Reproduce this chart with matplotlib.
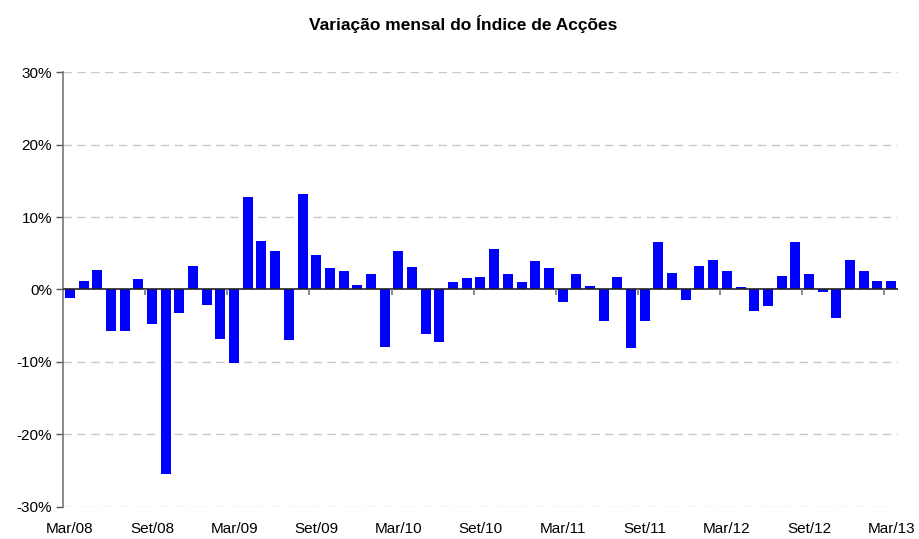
import numpy as np
import matplotlib
matplotlib.use("Agg")
import matplotlib.pyplot as plt

plt.rcParams['font.family'] = ['Liberation Sans', 'DejaVu Sans']

# variação mensal (%), Mar/08 a Mar/13
variacao = [
    -1.2, 1.2, 2.7, -5.7, -5.7, 1.5, -4.7, -25.5, -3.3, 3.3, -2.2, -6.8,
    -10.1, 12.8, 6.7, 5.3, -7.0, 13.2, 4.8, 3.0, 2.6, 0.6, 2.2, -7.9,
    5.3, 3.1, -6.2, -7.2, 1.1, 1.6, 1.7, 5.6, 2.2, 1.0, 3.9, 3.0,
    -1.7, 2.1, 0.55, -4.4, 1.7, -8.1, -4.4, 6.5, 2.3, -1.5, 3.2, 4.1,
    2.6, 0.3, -3.0, -2.3, 1.8, 6.5, 2.2, -0.4, -4.0, 4.1, 2.6, 1.2, 1.2,
]
rotulos = ["Mar/08", "Set/08", "Mar/09", "Set/09", "Mar/10", "Set/10",
           "Mar/11", "Set/11", "Mar/12", "Set/12", "Mar/13"]
yticks = [-30, -20, -10, 0, 10, 20, 30]

n = len(variacao)
x = np.arange(n)

fig = plt.figure(figsize=(9.2, 5.39), dpi=100)
ax = fig.add_axes([0.0685, 0.0594, 0.9075, 0.807])

ax.set_ylim(-30, 30)
ax.set_xlim(-0.5, n - 0.5)

for y in yticks:
    if y != 0:
        ax.axhline(y, color='#c8c8c8', lw=1, ls=(0, (6, 4)), zorder=0)

ax.bar(x, variacao, width=0.73, color='#0000ff', zorder=2)
ax.axhline(0, color='#222222', lw=1.2, zorder=3)

# marcas do eixo das categorias (de 6 em 6 meses)
marcas = np.arange(5.5, n - 0.5, 6)
ax.vlines(marcas, -0.7, 0, color='#777777', lw=1.2, zorder=3)

ax.set_yticks(yticks)
ax.set_yticklabels([f"{v}%" for v in yticks], fontsize=11)
ax.tick_params(axis='y', length=5, width=1, color='#555555', pad=3)

ax.set_xticks(x[::6])
ax.set_xticklabels(rotulos, fontsize=11)
ax.tick_params(axis='x', length=0, pad=11)

for s in ['top', 'right', 'bottom']:
    ax.spines[s].set_visible(False)
ax.spines['left'].set_color('#777777')
ax.spines['left'].set_linewidth(1.2)

fig.suptitle("Variação mensal do Índice de Acções", fontsize=12.5, fontweight='bold',
             x=0.503, y=0.972)

fig.savefig("out.png", dpi=100)
